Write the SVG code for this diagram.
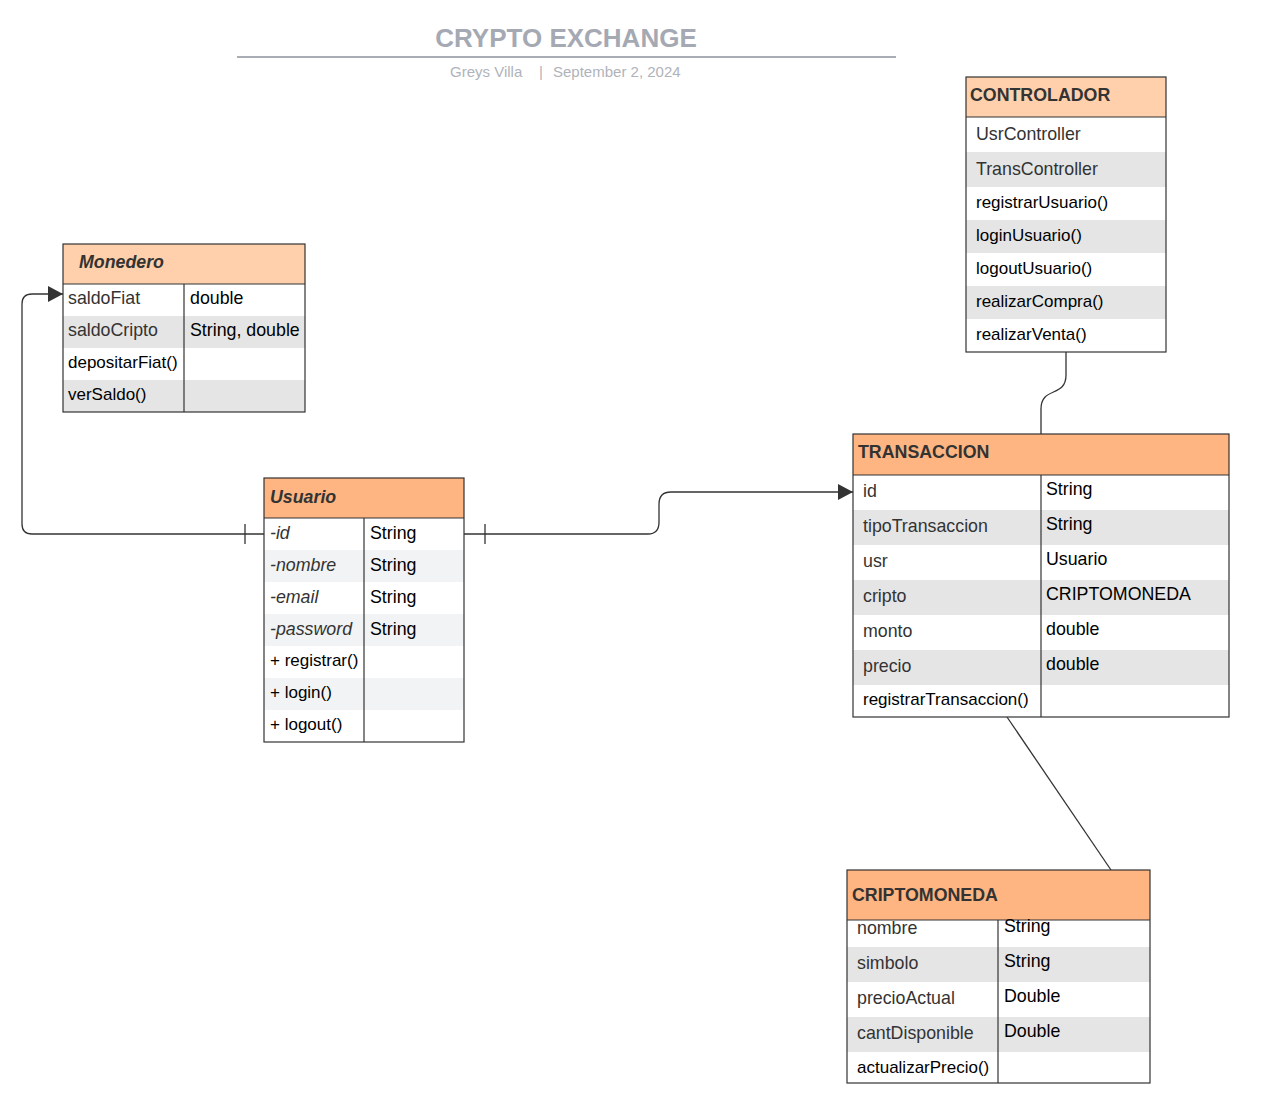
<svg xmlns="http://www.w3.org/2000/svg" width="1261" height="1109" viewBox="0 0 1261 1109">
<style>
text{font-family:"Liberation Sans",Arial,sans-serif;}
.box{fill:none;stroke:#333;stroke-width:1.2}
.div{stroke:#333;stroke-width:1.2}
.hd1{fill:#ffd0ab}
.hd2{fill:#ffb581}
.g{fill:#e5e5e5}
.g2{fill:#f2f3f5}
.w{fill:#fff}
.ht{font-size:17.8px;font-weight:bold;fill:#333}
.hti{font-size:17.8px;font-weight:bold;font-style:italic;fill:#333}
.t{font-size:17.8px;fill:#000}
.m{font-size:17px;fill:#000}
.tg{font-size:17.8px;fill:#333}
.ti{font-size:17.8px;font-style:italic;fill:#333}
.sub{font-size:15px;fill:#b0b3ba}
.con{fill:none;stroke:#333;stroke-width:1.3}
</style>
<defs>
<marker id="arr" markerWidth="16" markerHeight="16" refX="15" refY="8" orient="auto" markerUnits="userSpaceOnUse">
<path d="M0,0 L15,8 L0,16 Z" fill="#333"/>
</marker>
</defs>
<rect width="1261" height="1109" fill="#fff"/>
<g id="title">
<text x="566" y="47" text-anchor="middle" style="font-size:26px;font-weight:bold;fill:#a5a9b3">CRYPTO EXCHANGE</text>
<line x1="237" y1="57" x2="896" y2="57" stroke="#a9adb5" stroke-width="2"/>
<text class="sub" x="450" y="77">Greys Villa</text>
<text class="sub" x="539" y="77">|</text>
<text class="sub" x="553" y="77">September 2, 2024</text>
</g>
<g id="connectors">
<path class="con" d="M264,534 H32 Q22,534 22,524 V304 Q22,294 32,294 H63" marker-end="url(#arr)"/>
<line class="con" x1="245" y1="524" x2="245" y2="544"/>
<path class="con" d="M464,534 H648 Q659,534 659,522 V504 Q659,492 671,492 H853" marker-end="url(#arr)"/>
<line class="con" x1="485" y1="524" x2="485" y2="544"/>
<path class="con" d="M1066,352 V375 C1066,398 1041,386 1041,409 V434"/>
<line class="con" x1="1007" y1="717" x2="1111" y2="870"/>
</g>
<g id="monedero">
<rect class="hd1" x="63" y="244" width="242" height="40"/>
<rect class="w" x="63" y="284" width="242" height="32"/>
<rect class="g" x="63" y="316" width="242" height="32"/>
<rect class="w" x="63" y="348" width="242" height="32"/>
<rect class="g" x="63" y="380" width="242" height="32"/>
<line class="div" x1="63" y1="284" x2="305" y2="284"/>
<line class="div" x1="184" y1="284" x2="184" y2="412"/>
<rect class="box" x="63" y="244" width="242" height="168"/>
<text class="hti" x="79" y="268">Monedero</text>
<text class="tg" x="68" y="304">saldoFiat</text>
<text class="t" x="190" y="304">double</text>
<text class="tg" x="68" y="336">saldoCripto</text>
<text class="t" x="190" y="336">String, double</text>
<text class="m" x="68" y="368">depositarFiat()</text>
<text class="m" x="68" y="400">verSaldo()</text>
</g>
<g id="controlador">
<rect class="hd1" x="966" y="77" width="200" height="40"/>
<rect class="w" x="966" y="117" width="200" height="35"/>
<rect class="g" x="966" y="152" width="200" height="35"/>
<rect class="w" x="966" y="187" width="200" height="33"/>
<rect class="g" x="966" y="220" width="200" height="33"/>
<rect class="w" x="966" y="253" width="200" height="33"/>
<rect class="g" x="966" y="286" width="200" height="33"/>
<rect class="w" x="966" y="319" width="200" height="33"/>
<line class="div" x1="966" y1="117" x2="1166" y2="117"/>
<rect class="box" x="966" y="77" width="200" height="275"/>
<text class="ht" x="970" y="101">CONTROLADOR</text>
<text class="tg" x="976" y="140">UsrController</text>
<text class="tg" x="976" y="175">TransController</text>
<text class="m" x="976" y="208">registrarUsuario()</text>
<text class="m" x="976" y="241">loginUsuario()</text>
<text class="m" x="976" y="274">logoutUsuario()</text>
<text class="m" x="976" y="307">realizarCompra()</text>
<text class="m" x="976" y="340">realizarVenta()</text>
</g>
<g id="usuario">
<rect class="hd2" x="264" y="478" width="200" height="40"/>
<rect class="w" x="264" y="518" width="200" height="32"/>
<rect class="g2" x="264" y="550" width="200" height="32"/>
<rect class="w" x="264" y="582" width="200" height="32"/>
<rect class="g2" x="264" y="614" width="200" height="32"/>
<rect class="w" x="264" y="646" width="200" height="32"/>
<rect class="g2" x="264" y="678" width="200" height="32"/>
<rect class="w" x="264" y="710" width="200" height="32"/>
<line class="div" x1="264" y1="518" x2="464" y2="518"/>
<line class="div" x1="364" y1="518" x2="364" y2="742"/>
<rect class="box" x="264" y="478" width="200" height="264"/>
<text class="hti" x="270" y="503">Usuario</text>
<text class="ti" x="270" y="539">-id</text>
<text class="t" x="370" y="539">String</text>
<text class="ti" x="270" y="571">-nombre</text>
<text class="t" x="370" y="571">String</text>
<text class="ti" x="270" y="603">-email</text>
<text class="t" x="370" y="603">String</text>
<text class="ti" x="270" y="635">-password</text>
<text class="t" x="370" y="635">String</text>
<text class="m" x="270" y="666">+ registrar()</text>
<text class="m" x="270" y="698">+ login()</text>
<text class="m" x="270" y="730">+ logout()</text>
</g>
<g id="transaccion">
<rect class="hd2" x="853" y="434" width="376" height="41"/>
<rect class="w" x="853" y="475" width="376" height="35"/>
<rect class="g" x="853" y="510" width="376" height="35"/>
<rect class="w" x="853" y="545" width="376" height="35"/>
<rect class="g" x="853" y="580" width="376" height="35"/>
<rect class="w" x="853" y="615" width="376" height="35"/>
<rect class="g" x="853" y="650" width="376" height="35"/>
<rect class="w" x="853" y="685" width="376" height="32"/>
<line class="div" x1="853" y1="475" x2="1229" y2="475"/>
<line class="div" x1="1041" y1="475" x2="1041" y2="717"/>
<rect class="box" x="853" y="434" width="376" height="283"/>
<text class="ht" x="858" y="458">TRANSACCION</text>
<text class="tg" x="863" y="497">id</text>
<text class="t" x="1046" y="495">String</text>
<text class="tg" x="863" y="532">tipoTransaccion</text>
<text class="t" x="1046" y="530">String</text>
<text class="tg" x="863" y="567">usr</text>
<text class="t" x="1046" y="565">Usuario</text>
<text class="tg" x="863" y="602">cripto</text>
<text class="t" x="1046" y="600">CRIPTOMONEDA</text>
<text class="tg" x="863" y="637">monto</text>
<text class="t" x="1046" y="635">double</text>
<text class="tg" x="863" y="672">precio</text>
<text class="t" x="1046" y="670">double</text>
<text class="m" x="863" y="705">registrarTransaccion()</text>
</g>
<g id="criptomoneda">
<rect class="hd2" x="847" y="870" width="303" height="50"/>
<rect class="w" x="847" y="920" width="303" height="27"/>
<rect class="g" x="847" y="947" width="303" height="35"/>
<rect class="w" x="847" y="982" width="303" height="35"/>
<rect class="g" x="847" y="1017" width="303" height="35"/>
<rect class="w" x="847" y="1052" width="303" height="31"/>
<line class="div" x1="847" y1="920" x2="1150" y2="920"/>
<line class="div" x1="998" y1="920" x2="998" y2="1083"/>
<rect class="box" x="847" y="870" width="303" height="213"/>
<text class="ht" x="852" y="901">CRIPTOMONEDA</text>
<text class="tg" x="857" y="934">nombre</text>
<text class="t" x="1004" y="932">String</text>
<text class="tg" x="857" y="969">simbolo</text>
<text class="t" x="1004" y="967">String</text>
<text class="tg" x="857" y="1004">precioActual</text>
<text class="t" x="1004" y="1002">Double</text>
<text class="tg" x="857" y="1039">cantDisponible</text>
<text class="t" x="1004" y="1037">Double</text>
<text class="m" x="857" y="1073">actualizarPrecio()</text>
</g>
</svg>
